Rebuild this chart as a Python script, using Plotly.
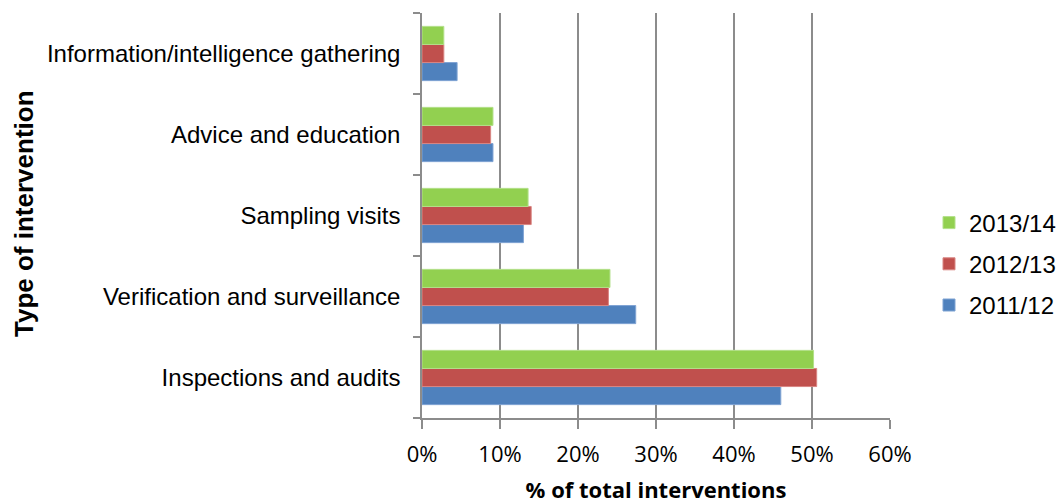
import plotly.graph_objects as go

categories = ["Inspections and audits", "Verification and surveillance", "Sampling visits",
              "Advice and education", "Information/intelligence gathering"]
series_names = ["2011/12", "2012/13", "2013/14"]
values_2011 = [0.460, 0.274, 0.130, 0.091, 0.045]
values_2012 = [0.506, 0.239, 0.140, 0.088, 0.028]
values_2013 = [0.502, 0.241, 0.136, 0.091, 0.028]
colors = ["#4F81BD", "#C0504D", "#92D050"]
borders = ["#7FA3D3", "#D98683", "#B3E08A"]
legend_ranks = [3, 2, 1]
x_ticks = [0, 0.1, 0.2, 0.3, 0.4, 0.5, 0.6]

fig = go.Figure()
for name, vals, c, b, rk in zip(series_names, [values_2011, values_2012, values_2013],
                                colors, borders, legend_ranks):
    fig.add_trace(go.Bar(y=categories, x=vals, name=name, orientation="h", legendgroup=name,
                         legendrank=rk,
                         marker=dict(color=c, line=dict(color=b, width=1))))

W, H = 1061, 504
L, R, T, B = 422, 171, 13, 86
pw = W - L - R
ph = H - T - B

fig.update_layout(
    width=W, height=H, barmode="group", bargap=0.33, bargroupgap=0,
    margin=dict(l=L, r=R, t=T, b=B, autoexpand=False),
    plot_bgcolor="white", paper_bgcolor="white",
    font=dict(family="Liberation Sans, Arial", size=24, color="black"),
    showlegend=True,
    legend=dict(traceorder="grouped", xref="container", yref="container",
                x=1.0, xanchor="right",
                y=(H - 264) / H, yanchor="middle",
                font=dict(size=24, family="Liberation Sans, Arial"),
                itemwidth=30, tracegroupgap=7, bgcolor="rgba(0,0,0,0)"),
    xaxis=dict(range=[0, 0.6], tickvals=x_ticks, tickformat=".0%", automargin=False,
               showgrid=True, gridcolor="#8C8C8C", gridwidth=1.5,
               showline=True, linecolor="#8C8C8C", linewidth=1.5,
               ticks="outside", ticklen=9, tickcolor="#8C8C8C", tickwidth=1.5,
               ticklabelstandoff=7,
               tickfont=dict(family="Open Sans, Liberation Sans", size=22),
               zeroline=False,
               title=dict(text="<b>% of total interventions</b>", standoff=24,
                          font=dict(family="Open Sans, Liberation Sans", size=22))),
    yaxis=dict(categoryorder="array", categoryarray=categories, automargin=False,
               showline=True, linecolor="#8C8C8C", linewidth=1.5,
               ticks="outside", ticklen=7, tickcolor="#8C8C8C", tickwidth=1.5,
               tickson="boundaries", ticklabelstandoff=15,
               tickfont=dict(family="Liberation Sans, Arial", size=24),
               showgrid=False, range=[-0.5, 4.5]),
    annotations=[dict(text="<b>Type of intervention</b>", textangle=-90,
                      xref="paper", yref="paper",
                      x=(24 - L) / pw, y=(H - B - 214) / ph,
                      xanchor="center", yanchor="middle", showarrow=False,
                      font=dict(family="Liberation Sans, Arial", size=26))],
)

fig.write_html("out.html", post_script="document.body.style.margin='0';",
               config={"displayModeBar": False})
